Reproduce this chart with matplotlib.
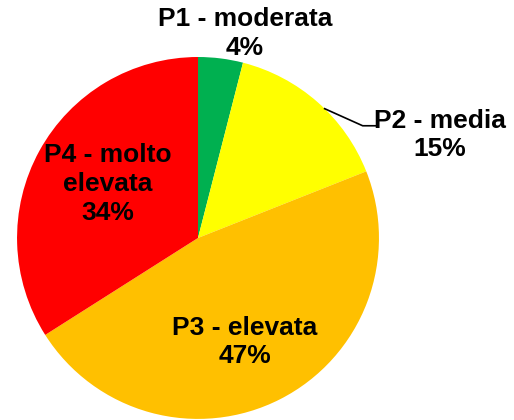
import numpy as np
import matplotlib
matplotlib.use("Agg")
import matplotlib.pyplot as plt

# data
labels = ["P1 - moderata", "P2 - media", "P3 - elevata", "P4 - molto\nelevata"]
values = [4, 15, 47, 34]
colors = ["#00B050", "#FFFF00", "#FFC000", "#FF0000"]

plt.rcParams['font.family'] = ['Liberation Sans', 'DejaVu Sans']

fig = plt.figure(figsize=(5.14, 4.20), dpi=100)
ax = fig.add_axes([0, 0, 1, 1])
wedges, _ = ax.pie(values, colors=colors, startangle=90, counterclock=False,
                   radius=1, wedgeprops=dict(linewidth=0))
ax.set_xlim(-1.094, 1.746)
ax.set_ylim(-1.006, 1.315)
ax.set_aspect('equal')
ax.axis('off')

# label positions (data units, radius = 1)
label_pos = [(0.26, 1.13), (1.337, 0.569), (0.26, -0.575), (-0.497, 0.298)]
for lab, v, (x, y) in zip(labels, values, label_pos):
    ax.text(x, y, f"{lab}\n{v}%", ha='center', va='center', fontsize=19,
            fontweight='bold', linespacing=1.25)

# leader line for P2
w = wedges[1]
mid = np.deg2rad((w.theta1 + w.theta2) / 2 - 3)
x0, y0 = np.cos(mid), np.sin(mid)
ax.plot([x0, 0.91, 0.985], [y0, 0.62, 0.62], color='black', lw=1.2)

fig.savefig("out.png", dpi=100)
